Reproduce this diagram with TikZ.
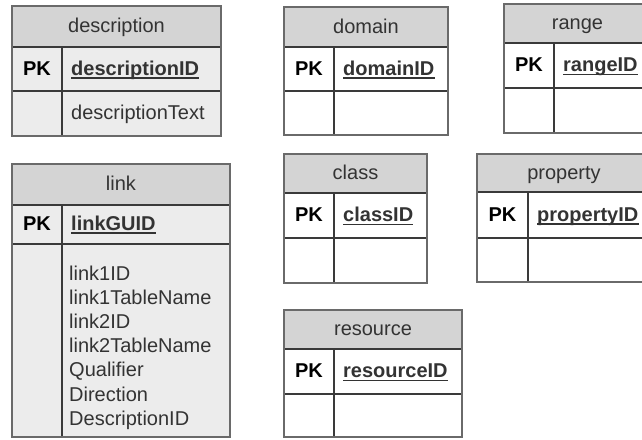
\documentclass[tikz,border=0pt]{standalone}
\usepackage{fontspec}
\setmainfont{Liberation Sans}
\definecolor{hdr}{HTML}{D4D4D4}
\definecolor{bodyg}{HTML}{ECECEC}
\definecolor{framec}{HTML}{6A6A6A}
\definecolor{rulec}{HTML}{3A3A3A}
\definecolor{txt}{HTML}{333333}
\newcommand\erdframe[8]{% #1 L, #2 R, #3 T, #4 header bottom, #5 pk bottom, #6 B, #7 divider, #8 body fill
  \fill[hdr] (#1,#3) rectangle (#2,#4);
  \fill[#8] (#1,#4) rectangle (#2,#6);
  \draw[innerrule] (#1,#4) -- (#2,#4);
  \draw[innerrule] (#1,#5) -- (#2,#5);
  \draw[innerrule] (#7,#4) -- (#7,#6);
  \draw[outerrule] (#1,#3) rectangle (#2,#6);
}
\tikzset{
  innerrule/.style={draw=rulec, line width=1.3pt},
  outerrule/.style={draw=framec, line width=1.8pt},
  ttl/.style={font=\fontsize{20}{24}\selectfont, text=txt, inner sep=0pt, anchor=base},
  pklab/.style={font=\fontsize{20}{24}\selectfont\bfseries, text=black, inner sep=0pt, anchor=base},
  pkname/.style={font=\fontsize{20}{24}\selectfont\bfseries, text=txt, inner sep=0pt, anchor=base west},
  fld/.style={font=\fontsize{20}{24}\selectfont, text=txt, inner sep=0pt, anchor=base west},
  uline/.style={draw=txt, line width=1.4pt}
}
\begin{document}
\begin{tikzpicture}[x=1pt,y=-1pt]
\useasboundingbox (0,0) rectangle (642,439);
\fill[white] (0,0) rectangle (642,439);
\clip (0,0) rectangle (642,439);

% description
\erdframe{12}{221}{6}{47}{91}{136}{62}{bodyg}
\node[ttl] (descT) at (116.5,32.5) {description};
\node[pklab] (descPK) at (37,75) {PK};
\node[pkname] (descID) at (71,75) {descriptionID};
\draw[uline] ([yshift=-3pt]descID.base west) -- ([yshift=-3pt]descID.base east);
\node[fld] (descTxt) at (71,119) {descriptionText};

% link
\erdframe{12}{230}{164}{205}{244}{437}{62}{bodyg}
\node[ttl] (linkT) at (121,190.5) {link};
\node[pklab] (linkPK) at (37,230) {PK};
\node[pkname] (linkID) at (71,230) {linkGUID};
\draw[uline] ([yshift=-3pt]linkID.base west) -- ([yshift=-3pt]linkID.base east);
\node[fld] (l1) at (69,280) {link1ID};
\node[fld] (l2) at (69,304.2) {link1TableName};
\node[fld] (l3) at (69,328.4) {link2ID};
\node[fld] (l4) at (69,352.6) {link2TableName};
\node[fld] (l5) at (69,376.8) {Qualifier};
\node[fld] (l6) at (69,401) {Direction};
\node[fld] (l7) at (69,425.2) {DescriptionID};

% domain
\erdframe{284}{448}{7}{47}{91}{135}{334}{white}
\node[ttl] (domT) at (366,33) {domain};
\node[pklab] (domPK) at (309,75) {PK};
\node[pkname] (domID) at (343,75) {domainID};
\draw[uline] ([yshift=-3pt]domID.base west) -- ([yshift=-3pt]domID.base east);

% range
\erdframe{504}{651}{4}{43}{88}{133}{554}{white}
\node[ttl] (rngT) at (577.5,29.5) {range};
\node[pklab] (rngPK) at (529,71.5) {PK};
\node[pkname] (rngID) at (563,71.5) {rangeID};
\draw[uline] ([yshift=-3pt]rngID.base west) -- ([yshift=-3pt]rngID.base east);

% class
\erdframe{284}{427}{154}{193}{238}{283}{334}{white}
\node[ttl] (clsT) at (355.5,179.5) {class};
\node[pklab] (clsPK) at (309,221.5) {PK};
\node[pkname] (clsID) at (343,221.5) {classID};
\draw[uline] ([yshift=-3pt]clsID.base west) -- ([yshift=-3pt]clsID.base east);

% property
\erdframe{477}{651}{154}{192}{238}{282}{528}{white}
\node[ttl] (prpT) at (564,179) {property};
\node[pklab] (prpPK) at (502.5,221) {PK};
\node[pkname] (prpID) at (537,221) {propertyID};
\draw[uline] ([yshift=-3pt]prpID.base west) -- ([yshift=-3pt]prpID.base east);

% resource
\erdframe{284}{462}{310}{349}{394}{437}{334}{white}
\node[ttl] (resT) at (373,335.5) {resource};
\node[pklab] (resPK) at (309,377.5) {PK};
\node[pkname] (resID) at (343,377.5) {resourceID};
\draw[uline] ([yshift=-3pt]resID.base west) -- ([yshift=-3pt]resID.base east);
\end{tikzpicture}
\end{document}
